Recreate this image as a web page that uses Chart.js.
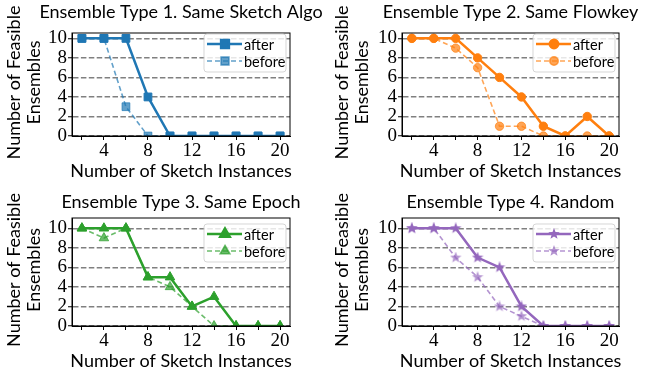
<!DOCTYPE html>
<html>
<head>
<meta charset="utf-8">
<script src="https://cdn.jsdelivr.net/npm/chart.js@4.4.0/dist/chart.umd.min.js"></script>
<style>
	body {
		margin: 0;
		background: #fff;
		width: 645px;
		height: 376px;
		position: relative;
		overflow: hidden;
	}
	canvas {
		position: absolute;
	}
</style>
</head>
<body>
<canvas id="chart-1" width="322" height="185" style="left:0;top:0"></canvas>
<canvas id="chart-2" width="323" height="185" style="left:322px;top:0"></canvas>
<canvas id="chart-3" width="322" height="191" style="left:0;top:185px"></canvas>
<canvas id="chart-4" width="323" height="191" style="left:322px;top:185px"></canvas>
<script>
const sansFont = 'Lato, "DejaVu Sans", sans-serif'
const serifFont = '"Liberation Serif", "DejaVu Serif", serif'

// data
const sketchInstances = [2, 4, 6, 8, 10, 12, 14, 16, 18, 20]
const xTickValues = [2, 4, 6, 8, 10, 12, 14, 16, 18, 20]
const xTickLabels = [4, 8, 12, 16, 20]
const yTickValues = [0, 2, 4, 6, 8, 10]
const seriesNames = ['after', 'before']
const xTitle = 'Number of Sketch Instances'
const yTitle = ['Number of Feasible', 'Ensembles']

const type1After = [10, 10, 10, 4, 0, 0, 0, 0, 0, 0]
const type1Before = [10, 10, 3, 0, 0, 0, 0, 0, 0, 0]
const type2After = [10, 10, 10, 8, 6, 4, 1, 0, 2, 0]
const type2Before = [10, 10, 9, 7, 1, 1, 0, 0, 0, 0]
const type3After = [10, 10, 10, 5, 5, 2, 3, 0, 0, 0]
const type3Before = [10, 9, 10, 5, 4, 2, 0, 0, 0, 0]
const type4After = [10, 10, 10, 7, 6, 2, 0, 0, 0, 0]
const type4Before = [10, 10, 7, 5, 2, 1, 0, 0, 0, 0]

const titles = [
	'Ensemble Type 1. Same Sketch Algo',
	'Ensemble Type 2. Same Flowkey',
	'Ensemble Type 3. Same Epoch',
	'Ensemble Type 4. Random',
]

// filled star marker (chart.js 'star' is just an asterisk)
function starImage(color, size) {
	const c = document.createElement('canvas')
	c.width = size
	c.height = size
	const ctx = c.getContext('2d')
	const r = size / 2
	ctx.fillStyle = color
	ctx.beginPath()
	for (let i = 0; i < 10; i++) {
		const rad = i % 2 === 0 ? r : r * 0.42
		const a = -Math.PI / 2 + (i * Math.PI) / 5
		ctx.lineTo(r + rad * Math.cos(a), r + rad * Math.sin(a))
	}
	ctx.closePath()
	ctx.fill()
	return c
}

// spines, legend inside the axes, and the titles (drawn unsquashed)
const framePlugin = {
	id: 'frame',
	afterDatasetsDraw(chart, args, opts) {
		const { ctx, chartArea: a } = chart
		ctx.save()
		ctx.strokeStyle = '#000'
		ctx.lineWidth = 1
		ctx.strokeRect(a.left, a.top, a.right - a.left, a.bottom - a.top)

		const w = 82
		const h = 38
		const bx = a.right - 4 - w
		const by = a.top + opts.legendOffset
		ctx.globalAlpha = 0.8
		ctx.fillStyle = '#fff'
		ctx.strokeStyle = '#ccc'
		ctx.beginPath()
		ctx.roundRect(bx, by, w, h, 3)
		ctx.fill()
		ctx.stroke()
		ctx.globalAlpha = 1

		chart.data.datasets.forEach((ds, i) => {
			const y = by + 10 + i * 17
			ctx.save()
			ctx.strokeStyle = ds.borderColor
			ctx.lineWidth = ds.borderWidth
			ctx.setLineDash(ds.borderDash || [])
			ctx.beginPath()
			ctx.moveTo(bx + 3, y)
			ctx.lineTo(bx + 38, y)
			ctx.stroke()
			ctx.setLineDash([])
			ctx.fillStyle = ds.pointBackgroundColor
			ctx.strokeStyle = ds.pointBorderColor
			Chart.helpers.drawPoint(ctx, {
				pointStyle: ds.pointStyle,
				radius: ds.pointRadius,
				rotation: 0,
				borderWidth: ds.pointBorderWidth,
			}, bx + 21, y)
			ctx.restore()
			ctx.fillStyle = '#000'
			ctx.font = '14.5px ' + sansFont
			ctx.textBaseline = 'middle'
			ctx.textAlign = 'left'
			ctx.fillText(ds.label, bx + 40, y + 1)
		})

		const cx = (a.left + a.right) / 2
		const cy = (a.top + a.bottom) / 2
		ctx.fillStyle = '#000'
		ctx.font = '18px ' + sansFont
		ctx.textAlign = 'center'
		ctx.textBaseline = 'middle'
		ctx.fillText(opts.title, cx, opts.titleY)
		ctx.fillText(xTitle, cx, a.bottom + 35)
		yTitle.forEach((line, i) => {
			ctx.save()
			ctx.translate(opts.yTitleX[i], cy - 2)
			ctx.rotate(-Math.PI / 2)
			ctx.fillText(line, 0, 0)
			ctx.restore()
		})
		ctx.restore()
	},
}

function makePanel(id, title, after, before, rgb, marker, radius, box) {
	const solid = 'rgb(' + rgb + ')'
	const faded = 'rgba(' + rgb + ',0.7)'
	let styleAfter = marker
	let styleBefore = marker
	if (marker === 'star') {
		styleAfter = starImage(solid, 12)
		styleBefore = starImage(faded, 12)
	}
	const canvas = document.getElementById(id)
	return new Chart(canvas, {
		type: 'line',
		data: {
			datasets: [
				{
					label: seriesNames[0],
					data: sketchInstances.map((x, i) => ({ x, y: after[i] })),
					borderColor: solid,
					borderWidth: 2.5,
					pointStyle: styleAfter,
					pointRadius: radius,
					pointBackgroundColor: solid,
					pointBorderColor: solid,
					pointBorderWidth: 1,
					clip: 0,
				},
				{
					label: seriesNames[1],
					data: sketchInstances.map((x, i) => ({ x, y: before[i] })),
					borderColor: faded,
					borderWidth: 1.6,
					borderDash: [5, 3],
					pointStyle: styleBefore,
					pointRadius: radius,
					pointBackgroundColor: faded,
					pointBorderColor: faded,
					pointBorderWidth: 1,
					clip: 0,
				},
			],
		},
		options: {
			responsive: false,
			animation: false,
			events: [],
			layout: { padding: { left: 0, right: canvas.width - box.right, top: box.top, bottom: 0 } },
			plugins: {
				legend: { display: false },
				tooltip: { enabled: false },
				title: { display: false },
				frame: {
					legendOffset: box.legendOffset,
					title: title,
					titleY: box.titleY,
					yTitleX: box.yTitleX,
				},
			},
			scales: {
				x: {
					type: 'linear',
					min: 1.1,
					max: 20.9,
					afterBuildTicks: s => {
						s.ticks = xTickValues.map(v => ({ value: v }))
					},
					afterFit: s => {
						s.height = canvas.height - box.bottom
					},
					ticks: {
						autoSkip: false,
						maxRotation: 0,
						padding: 0,
						color: '#000',
						font: { family: serifFont, size: 19 },
						callback: v => (xTickLabels.includes(v) ? String(v) : ''),
					},
					grid: { drawOnChartArea: false, tickLength: 4, tickColor: '#000', tickWidth: 1 },
					border: { color: '#000', width: 1 },
				},
				y: {
					min: 0,
					max: box.yMax,
					afterBuildTicks: s => {
						s.ticks = yTickValues.map(v => ({ value: v }))
					},
					afterFit: s => {
						s.width = box.left
					},
					ticks: {
						autoSkip: false,
						padding: 1,
						color: '#000',
						font: { family: serifFont, size: 19 },
					},
					grid: {
						color: '#808080',
						lineWidth: 1.5,
						tickColor: '#000',
						tickBorderDash: [],
						tickLength: 4,
						tickWidth: 1,
					},
					border: { color: '#000', width: 1, dash: [5.5, 2.4] },
				},
			},
		},
		plugins: [framePlugin],
	})
}

makePanel('chart-1', titles[0], type1After, type1Before, '31,119,180', 'rect', 5.5,
	{ left: 72, right: 290, top: 33, bottom: 136, yMax: 10.55, titleY: 12, legendOffset: 1, yTitleX: [14, 34] })
makePanel('chart-2', titles[1], type2After, type2Before, '255,127,14', 'circle', 4.2,
	{ left: 80, right: 297, top: 33, bottom: 136, yMax: 10.55, titleY: 12, legendOffset: 1, yTitleX: [20, 40] })
makePanel('chart-3', titles[2], type3After, type3Before, '44,160,44', 'triangle', 5.5,
	{ left: 72, right: 290, top: 33, bottom: 141, yMax: 11.05, titleY: 17, legendOffset: 6, yTitleX: [14, 34] })
makePanel('chart-4', titles[3], type4After, type4Before, '148,103,189', 'star', 5.5,
	{ left: 80, right: 297, top: 33, bottom: 141, yMax: 11.05, titleY: 17, legendOffset: 6, yTitleX: [20, 40] })
</script>
</body>
</html>
